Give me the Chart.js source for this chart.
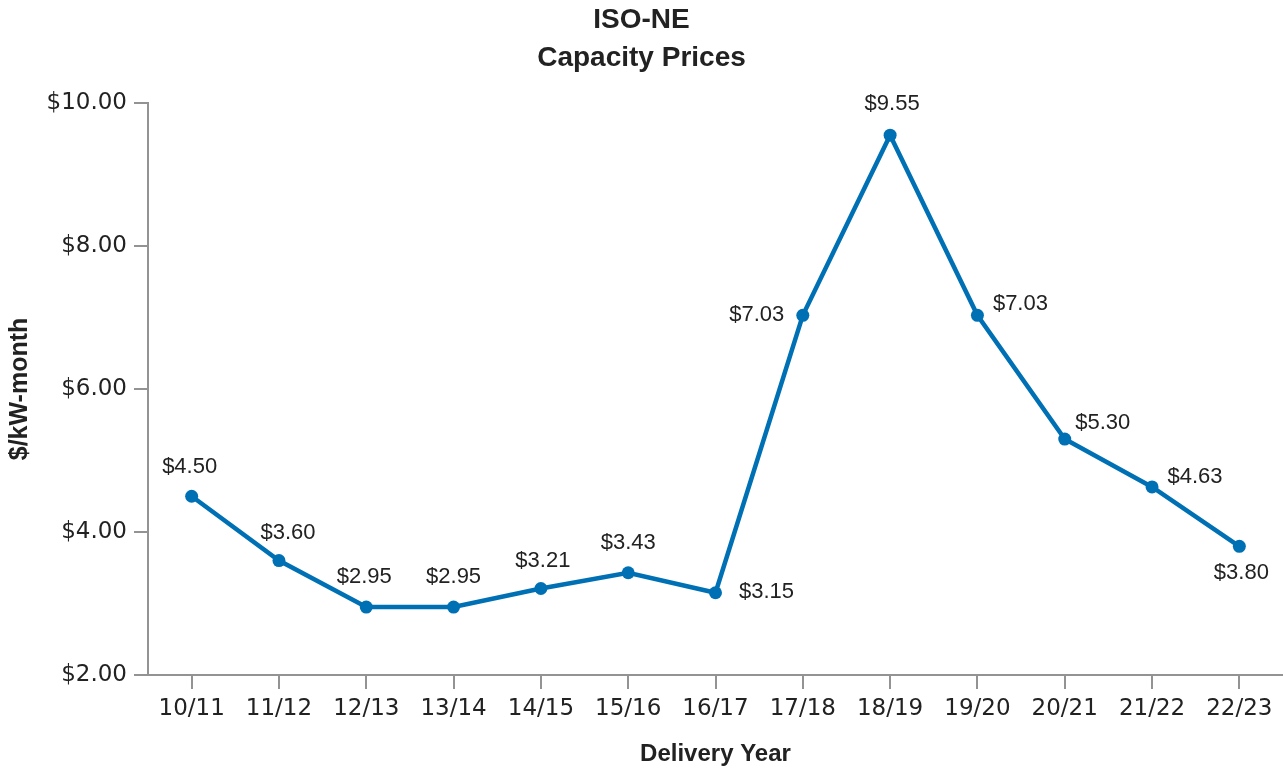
<!DOCTYPE html>
<html>
<head>
<meta charset="utf-8">
<script src="https://cdn.jsdelivr.net/npm/chart.js@4.4.1/dist/chart.umd.min.js"></script>
<style>
  html, body { margin: 0; padding: 0; background: #ffffff; }
  #wrap { width: 1283px; height: 769px; }
</style>
</head>
<body>
<div id="wrap"><canvas id="c" width="1283" height="769"></canvas></div>
<script>
const categories = ['10/11','11/12','12/13','13/14','14/15','15/16','16/17','17/18','18/19','19/20','20/21','21/22','22/23'];
const prices = [4.50, 3.60, 2.95, 2.95, 3.21, 3.43, 3.15, 7.03, 9.55, 7.03, 5.30, 4.63, 3.80];
const titleLines = ['ISO-NE', 'Capacity Prices'];
const xTitle = 'Delivery Year';
const yTitle = '$/kW-month';
const yMin = 2, yMax = 10, yStep = 2;

const BLUE = '#0070b5';
const GRAY = '#939393';
const TEXT = '#222222';
const FONT = '"DejaVu Sans", sans-serif';
const LABEL_FONT = '"Liberation Sans", Arial, sans-serif';
const TITLE_FONT = '"Liberation Sans", Arial, sans-serif';

// label placement (layout only): [dx, dy] relative to point
const labelOffsets = [[-2,-29],[9,-28],[-2,-30],[0,-30],[2,-28],[0,-30],[51,-1],[-46,0],[2,-31],[43,-11],[38,-16],[43,-10],[2,27]];

const labelPlugin = {
  id: 'pointLabels',
  afterDatasetsDraw(chart) {
    const ctx = chart.ctx;
    const meta = chart.getDatasetMeta(0);
    ctx.save();
    ctx.font = '22px ' + LABEL_FONT;
    ctx.fillStyle = TEXT;
    ctx.textAlign = 'center';
    ctx.textBaseline = 'middle';
    meta.data.forEach((pt, i) => {
      const off = labelOffsets[i] || [0, -30];
      ctx.fillText('$' + prices[i].toFixed(2), pt.x + off[0], pt.y + off[1]);
    });
    ctx.restore();
  }
};

new Chart(document.getElementById('c'), {
  type: 'line',
  data: {
    labels: categories,
    datasets: [{
      data: prices,
      borderColor: BLUE,
      backgroundColor: BLUE,
      borderWidth: 4.5,
      pointRadius: 6.5,
      pointHoverRadius: 6.5,
      pointBackgroundColor: BLUE,
      pointBorderWidth: 0,
      tension: 0,
      fill: false,
      clip: false
    }]
  },
  options: {
    responsive: false,
    animation: false,
    devicePixelRatio: 1,
    layout: { autoPadding: false, padding: { left: 0, right: 0, top: 0, bottom: 0 } },
    plugins: {
      legend: { display: false },
      tooltip: { enabled: false },
      title: {
        display: true,
        text: titleLines,
        color: TEXT,
        font: { family: TITLE_FONT, size: 28, weight: 'bold', lineHeight: 1.357 },
        padding: { top: 1, bottom: 26 }
      }
    },
    scales: {
      x: {
        type: 'category',
        offset: true,
        grid: { offset: false, drawOnChartArea: false, drawTicks: true, tickLength: 14, color: GRAY, lineWidth: 2 },
        border: { display: true, color: GRAY, width: 2 },
        ticks: { color: TEXT, font: { family: FONT, size: 23 }, padding: 6, maxRotation: 0, autoSkip: false },
        title: { display: true, text: xTitle, color: TEXT, font: { family: TITLE_FONT, size: 24, weight: 'bold', lineHeight: 1.2 }, padding: { top: 0, bottom: 0 } },
        afterFit(scale) { scale.height = 94; scale.paddingLeft = 0; scale.paddingRight = 0; }
      },
      y: {
        min: yMin,
        max: yMax,
        grid: { drawOnChartArea: false, drawTicks: true, tickLength: 14, color: GRAY, lineWidth: 2 },
        border: { display: true, color: GRAY, width: 2 },
        ticks: { stepSize: yStep, color: TEXT, font: { family: FONT, size: 23 }, padding: 7, callback: v => '$' + Number(v).toFixed(2) },
        title: { display: true, text: yTitle, color: TEXT, font: { family: TITLE_FONT, size: 25, weight: 'bold', lineHeight: 1.2 }, padding: { top: 5, bottom: 0 } },
        afterFit(scale) { scale.width = 148; }
      }
    }
  },
  plugins: [labelPlugin]
});
</script>
</body>
</html>
